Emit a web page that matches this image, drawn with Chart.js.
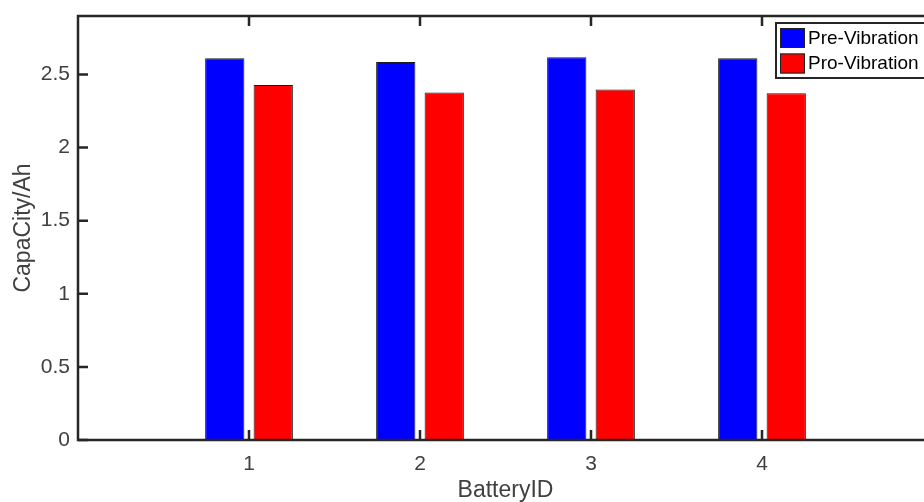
<!DOCTYPE html>
<html><head><meta charset="utf-8">
<script src="https://cdn.jsdelivr.net/npm/chart.js@4.4.0/dist/chart.umd.min.js"></script>
<style>
html,body{margin:0;padding:0;overflow:hidden;background:#fff;width:924px;height:502px}
#wrap{width:940px;height:502px;position:relative}
</style></head>
<body><div id="wrap"><canvas id="c" width="940" height="502"></canvas></div>
<script>
const batteryIds = [1, 2, 3, 4];
const preVibration = [2.611, 2.585, 2.618, 2.611];
const proVibration = [2.428, 2.377, 2.397, 2.371];
const seriesNames = ['Pre-Vibration', 'Pro-Vibration'];
const seriesColors = ['#0000FF', '#FF0000'];
const xTicks = [1, 2, 3, 4];
const yTicks = [0, 0.5, 1, 1.5, 2, 2.5];

const FAM = "'Liberation Sans', Arial, Helvetica, sans-serif";
const AXIS = '#262626';
const TXT = '#404040';

const framePlugin = {
  id: 'frame',
  afterDatasetsDraw(chart) {
    const {ctx, chartArea: a, scales: {x, y}} = chart;
    ctx.save();
    ctx.strokeStyle = AXIS;
    ctx.lineWidth = 2.5;
    ctx.strokeRect(a.left, a.top, a.right - a.left, a.bottom - a.top);
    const L = 10;
    ctx.beginPath();
    xTicks.forEach(v => {
      const px = x.getPixelForValue(v);
      ctx.moveTo(px, a.bottom); ctx.lineTo(px, a.bottom - L);
      ctx.moveTo(px, a.top); ctx.lineTo(px, a.top + L);
    });
    yTicks.forEach(v => {
      const py = y.getPixelForValue(v);
      ctx.moveTo(a.left, py); ctx.lineTo(a.left + L, py);
    });
    ctx.stroke();

    // legend (NorthEast, inside axes)
    const lx = a.right - 157, ly = a.top + 7, lw = 152, lh = 55;
    ctx.fillStyle = '#fff';
    ctx.fillRect(lx, ly, lw, lh);
    ctx.lineWidth = 2;
    ctx.strokeStyle = AXIS;
    ctx.strokeRect(lx, ly, lw, lh);
    ctx.font = '19px ' + FAM;
    ctx.textBaseline = 'middle';
    ctx.textAlign = 'left';
    chart.data.datasets.forEach((ds, i) => {
      const sy = ly + 5 + i * 25.5;
      ctx.fillStyle = ds.backgroundColor;
      ctx.fillRect(lx + 4, sy, 25, 20);
      ctx.lineWidth = 1;
      ctx.strokeStyle = '#222';
      ctx.strokeRect(lx + 4.5, sy + 0.5, 24, 19);
      ctx.fillStyle = '#000';
      ctx.fillText(ds.label, lx + 32, sy + 10.5);
    });
    ctx.restore();
  }
};

new Chart(document.getElementById('c'), {
  type: 'bar',
  data: {
    datasets: [
      {
        label: seriesNames[0],
        data: batteryIds.map((b, i) => ({x: b, y: preVibration[i]})),
        backgroundColor: seriesColors[0],
        borderColor: '#1a1a1a',
        borderWidth: 1,
        categoryPercentage: 0.567,
        barPercentage: 0.81
      },
      {
        label: seriesNames[1],
        data: batteryIds.map((b, i) => ({x: b, y: proVibration[i]})),
        backgroundColor: seriesColors[1],
        borderColor: '#1a1a1a',
        borderWidth: 1,
        categoryPercentage: 0.567,
        barPercentage: 0.81
      }
    ]
  },
  options: {
    responsive: false,
    animation: false,
    devicePixelRatio: 1,
    layout: {padding: {left: 0, right: 7, top: 16, bottom: 0}},
    plugins: {legend: {display: false}, tooltip: {enabled: false}},
    scales: {
      x: {
        type: 'linear', min: 0, max: 5, offset: false,
        grid: {display: false, drawTicks: false}, border: {display: false},
        afterBuildTicks: s => { s.ticks = xTicks.map(v => ({value: v})); },
        afterFit: s => { s.height = 62; s.paddingLeft = 0; s.paddingRight = 0; },
        ticks: {font: {family: FAM, size: 21}, color: TXT, padding: 12, maxRotation: 0, autoSkip: false, callback: v => String(v)},
        title: {display: true, text: 'BatteryID', color: TXT, font: {family: FAM, size: 23, lineHeight: 1}, padding: {top: 0, bottom: 0}}
      },
      y: {
        min: 0, max: 2.9,
        grid: {display: false, drawTicks: false}, border: {display: false},
        afterBuildTicks: s => { s.ticks = yTicks.map(v => ({value: v})); },
        afterFit: s => { s.width = 78; s.paddingTop = 0; s.paddingBottom = 0; },
        ticks: {font: {family: FAM, size: 21}, color: TXT, padding: 8, callback: v => String(v)},
        title: {display: true, text: 'CapaCity/Ah', color: TXT, font: {family: FAM, size: 23, lineHeight: 1}, padding: {top: 12, bottom: 0}}
      }
    }
  },
  plugins: [framePlugin]
});
</script>
</body></html>
